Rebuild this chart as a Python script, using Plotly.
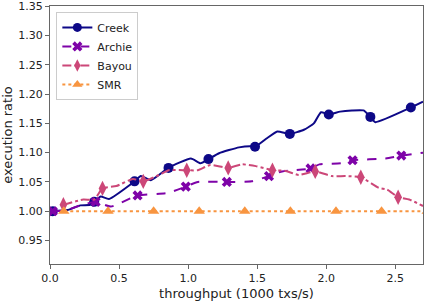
import plotly.graph_objects as go

# Creek
creek_x = [0.02, 0.126, 0.22, 0.29, 0.32, 0.367, 0.427, 0.612, 0.658, 0.73, 0.858, 1.02, 1.09, 1.147,
           1.224, 1.368, 1.453, 1.484, 1.573, 1.645, 1.736, 1.838, 1.91, 1.962, 2.018, 2.10, 2.186,
           2.27, 2.319, 2.355, 2.612, 2.70]
creek_y = [1.000, 1.002, 1.010, 1.011, 1.016, 1.025, 1.021, 1.051, 1.060, 1.053, 1.074, 1.090, 1.082,
           1.089, 1.099, 1.109, 1.111, 1.110, 1.125, 1.136, 1.132, 1.139, 1.150, 1.169, 1.165, 1.170,
           1.172, 1.172, 1.161, 1.152, 1.177, 1.187]
creek_marks = [0, 4, 7, 10, 13, 17, 20, 24, 28, 30]

# Archie
archie_x = [0.02, 0.12, 0.22, 0.33, 0.44, 0.634, 0.85, 0.983, 1.07, 1.28, 1.46, 1.585, 1.68, 1.886,
            1.95, 2.11, 2.19, 2.43, 2.543, 2.70]
archie_y = [1.000, 1.002, 1.010, 1.016, 1.008, 1.027, 1.031, 1.042, 1.050, 1.050, 1.051, 1.060, 1.068,
            1.073, 1.080, 1.082, 1.087, 1.090, 1.095, 1.100]
archie_marks = [0, 3, 5, 7, 9, 11, 13, 16, 18]

# Bayou
bayou_x = [0.097, 0.24, 0.32, 0.38, 0.48, 0.60, 0.675, 0.79, 0.86, 0.99, 1.07, 1.16, 1.29, 1.39, 1.49,
           1.61, 1.70, 1.80, 1.92, 2.04, 2.14, 2.25, 2.38, 2.44, 2.52, 2.60, 2.70]
bayou_y = [1.011, 1.020, 1.020, 1.039, 1.043, 1.055, 1.051, 1.062, 1.070, 1.070, 1.070, 1.079, 1.074,
           1.080, 1.077, 1.070, 1.069, 1.062, 1.068, 1.060, 1.060, 1.058, 1.040, 1.037, 1.024, 1.020,
           1.009]
bayou_marks = [0, 3, 6, 9, 12, 15, 18, 21, 24]

# SMR
smr_x = [0.10, 0.42, 0.75, 1.08, 1.41, 1.74, 2.07, 2.40, 2.73]
smr_y = [1.0, 1.0, 1.0, 1.0, 1.0, 1.0, 1.0, 1.0, 1.0]
smr_marks = [0, 1, 2, 3, 4, 5, 6, 7, 8]

x_ticks = [0.0, 0.5, 1.0, 1.5, 2.0, 2.5]
y_ticks = [0.95, 1.00, 1.05, 1.10, 1.15, 1.20, 1.25, 1.30, 1.35]

series = [
    ("Creek", creek_x, creek_y, creek_marks, "#0d0887", "solid", "circle", 10),
    ("Archie", archie_x, archie_y, archie_marks, "#7e03a8", "dash", "x", 9),
    ("Bayou", bayou_x, bayou_y, bayou_marks, "#cc4778", "dashdot", "diamond-tall", 11),
    ("SMR", smr_x, smr_y, smr_marks, "#f89540", "dot", "triangle-up", 10),
]

fig = go.Figure()
for name, xs, ys, marks, color, dash, sym, size in series:
    sizes = [size if i in marks else 0 for i in range(len(xs))]
    fig.add_trace(go.Scatter(
        x=xs, y=ys, mode="lines+markers", name=name, showlegend=False,
        line=dict(color=color, width=2, dash=dash, shape="spline", smoothing=0.5),
        marker=dict(color=color, symbol=sym, size=sizes, opacity=1, line=dict(width=0)),
    ))
for name, xs, ys, marks, color, dash, sym, size in series:
    fig.add_trace(go.Scatter(
        x=[None], y=[None], mode="lines+markers", name=name,
        line=dict(color=color, width=2, dash=dash),
        marker=dict(color=color, symbol=sym, size=9, opacity=1, line=dict(width=0)),
    ))

axis_common = dict(
    showgrid=False, zeroline=False, showline=True, linecolor="#666666", linewidth=1,
    mirror=True, ticks="outside", ticklen=4, tickcolor="#666666", automargin=False,
    ticklabeloverflow="allow",
    tickfont=dict(family="DejaVu Sans", size=11, color="#222222"),
    title_font=dict(family="DejaVu Sans", size=13, color="#222222"),
)

fig.update_layout(
    width=434, height=307,
    margin=dict(l=50, r=11, t=6, b=43),
    plot_bgcolor="white", paper_bgcolor="white",
    font=dict(family="DejaVu Sans", color="#222222"),
    legend=dict(
        x=0.017, y=0.977, xanchor="left", yanchor="top",
        bgcolor="rgba(255,255,255,0.85)", bordercolor="#cccccc", borderwidth=1,
        font=dict(family="DejaVu Sans", size=11, color="#222222"),
        itemwidth=30, tracegroupgap=0,
    ),
    xaxis=dict(range=[0, 2.7], tickvals=x_ticks, tickformat=".1f",
               title=dict(text="throughput (1000 txs/s)", standoff=4), **axis_common),
    yaxis=dict(range=[0.91, 1.3502], tickvals=y_ticks, tickformat=".2f",
               title=dict(text="execution ratio", standoff=6), **axis_common),
)

fig.write_html("out.html", config={"displayModeBar": False},
               post_script="document.body.style.margin='0';")
